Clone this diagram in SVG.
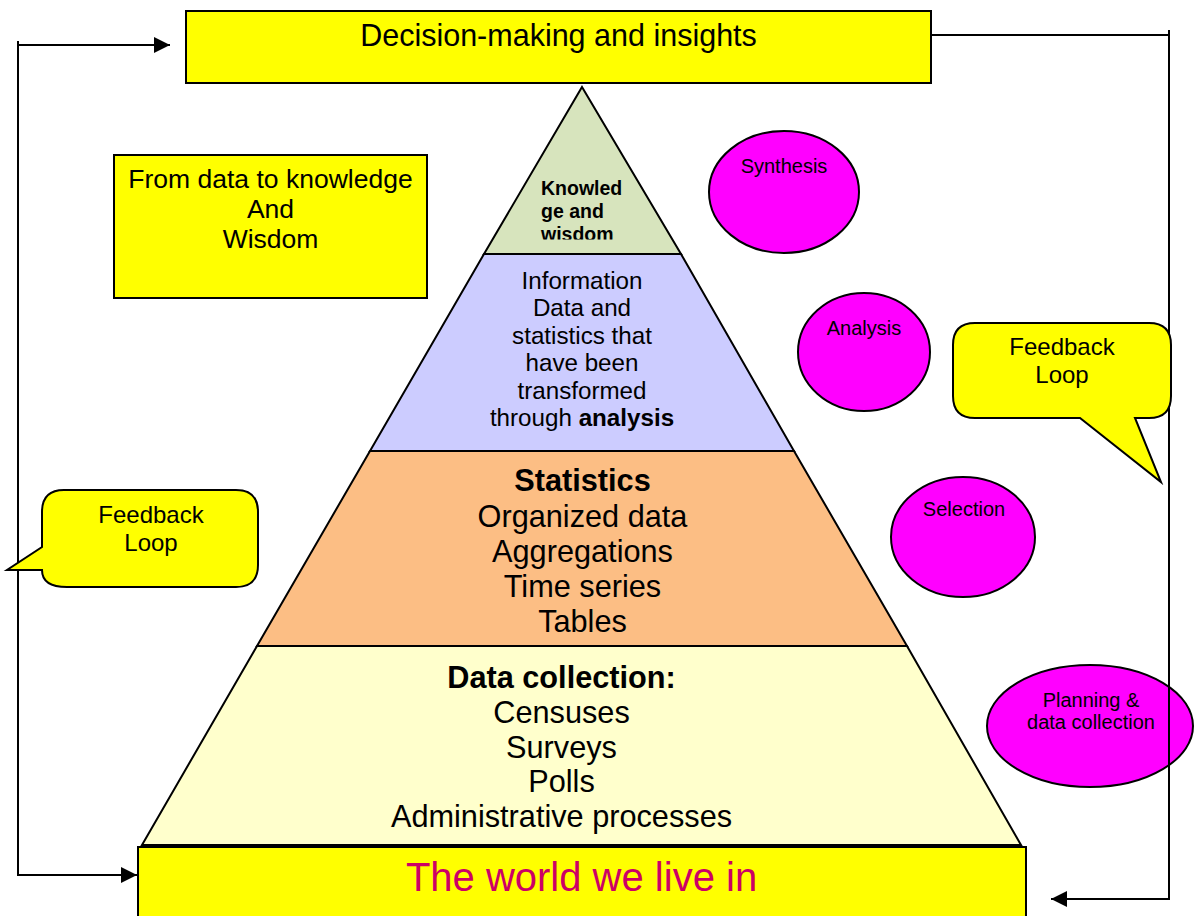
<svg xmlns="http://www.w3.org/2000/svg" width="1194" height="916" viewBox="0 0 1194 916">
  <style>
    text { font-family: "Liberation Sans", Arial, sans-serif; fill: #000; }
    .box { fill: #FFFF00; stroke: #000; stroke-width: 2; }
    .ell { fill: #FF00FF; stroke: #000; stroke-width: 2; }
    .lay { stroke: #000; stroke-width: 2; stroke-linejoin: miter; }
    .con { fill: none; stroke: #000; stroke-width: 2; }
    .c { text-anchor: middle; }
    .b { font-weight: bold; }
  </style>
  <defs>
    <marker id="arr" markerUnits="userSpaceOnUse" markerWidth="16" markerHeight="16" refX="16" refY="8" orient="auto">
      <path d="M0,0 L16,8 L0,16 Z" fill="#000"/>
    </marker>
    <clipPath id="kclip">
      <rect x="484" y="87" width="197" height="152.5"/>
    </clipPath>
  </defs>
  <rect width="1194" height="916" fill="#fff"/>

  <g id="pyramid">
    <g id="layer-knowledge">
      <polygon class="lay" fill="#D7E4BD" points="582,87 681,254 484,254"/>
      <g clip-path="url(#kclip)" font-size="19.5">
        <text x="541" y="195" class="b">Knowled</text>
        <text x="541" y="218" class="b">ge and</text>
        <text x="541" y="241" class="b">wisdom</text>
      </g>
    </g>
    <g id="layer-information">
      <polygon class="lay" fill="#CCCCFF" points="484,254 681,254 794,451 370,451"/>
      <g font-size="24.2">
        <text x="582" y="289" class="c">Information</text>
        <text x="582" y="316" class="c">Data and</text>
        <text x="582" y="343.5" class="c">statistics that</text>
        <text x="582" y="371" class="c">have been</text>
        <text x="582" y="398.5" class="c">transformed</text>
        <text x="582" y="426" class="c">through <tspan class="b">analysis</tspan></text>
      </g>
    </g>
    <g id="layer-statistics">
      <polygon class="lay" fill="#FCBE84" points="370,451 794,451 907,646 257,646"/>
      <g font-size="30.7">
        <text x="582.5" y="491" class="c b">Statistics</text>
        <text x="582.5" y="526.5" class="c">Organized data</text>
        <text x="582.5" y="561.5" class="c">Aggregations</text>
        <text x="582.5" y="596.5" class="c">Time series</text>
        <text x="582.5" y="631.5" class="c">Tables</text>
      </g>
    </g>
    <g id="layer-data">
      <polygon class="lay" fill="#FFFFCC" points="257,646 907,646 1021,845 142,845"/>
      <g font-size="30.7">
        <text x="561.5" y="688" class="c b">Data collection:</text>
        <text x="561.5" y="723" class="c">Censuses</text>
        <text x="561.5" y="757.5" class="c">Surveys</text>
        <text x="561.5" y="792" class="c">Polls</text>
        <text x="561.5" y="827" class="c">Administrative processes</text>
      </g>
    </g>
  </g>

  <g id="decision">
    <rect class="box" x="186" y="11" width="745" height="72"/>
    <text x="558.5" y="46" font-size="30.5" class="c">Decision-making and insights</text>
  </g>

  <g id="world">
    <rect class="box" x="138" y="847" width="888" height="80"/>
    <text x="581.5" y="891" font-size="40" class="c" style="fill:#CC0066">The world we live in</text>
  </g>

  <g id="from-data">
    <rect class="box" x="114" y="155" width="313" height="143"/>
    <g font-size="26.5">
      <text x="270.5" y="188" class="c">From data to knowledge</text>
      <text x="270.5" y="218" class="c">And</text>
      <text x="270.5" y="248" class="c">Wisdom</text>
    </g>
  </g>

  <g id="synthesis">
    <ellipse class="ell" cx="784" cy="192" rx="75" ry="61"/>
    <text x="784" y="173" font-size="20" class="c">Synthesis</text>
  </g>
  <g id="analysis">
    <ellipse class="ell" cx="864" cy="352" rx="66" ry="59"/>
    <text x="864" y="335" font-size="20" class="c">Analysis</text>
  </g>
  <g id="selection">
    <ellipse class="ell" cx="963" cy="537" rx="72" ry="60"/>
    <text x="964" y="516" font-size="20" class="c">Selection</text>
  </g>
  <g id="planning">
    <ellipse class="ell" cx="1090" cy="726" rx="103" ry="61"/>
    <text x="1091" y="707" font-size="20" class="c">Planning &amp;</text>
    <text x="1091" y="729" font-size="20" class="c">data collection</text>
  </g>

  <g id="connectors">
    <path class="con" d="M18,45 H170" marker-end="url(#arr)"/>
    <path class="con" d="M18,41 V875 H137" marker-end="url(#arr)"/>
    <path class="con" d="M931,35 H1170"/>
    <path class="con" d="M1169,30 V899 H1051" marker-end="url(#arr)"/>
  </g>

  <g id="feedback-right">
    <path class="box" d="M975,323 H1149 Q1171,323 1171,345 V396 Q1171,418 1149,418 H1135 L1161,482 L1080,418 H975 Q953,418 953,396 V345 Q953,323 975,323 Z"/>
    <text x="1062" y="355" font-size="24" class="c">Feedback</text>
    <text x="1062" y="383" font-size="24" class="c">Loop</text>
  </g>

  <g id="feedback-left">
    <path class="box" d="M64,490 H236 Q258,490 258,512 V565 Q258,587 236,587 H67 Q42,587 42,570 L7,570 L42,547 V512 Q42,490 64,490 Z"/>
    <text x="151" y="523" font-size="24" class="c">Feedback</text>
    <text x="151" y="551" font-size="24" class="c">Loop</text>
  </g>
</svg>
